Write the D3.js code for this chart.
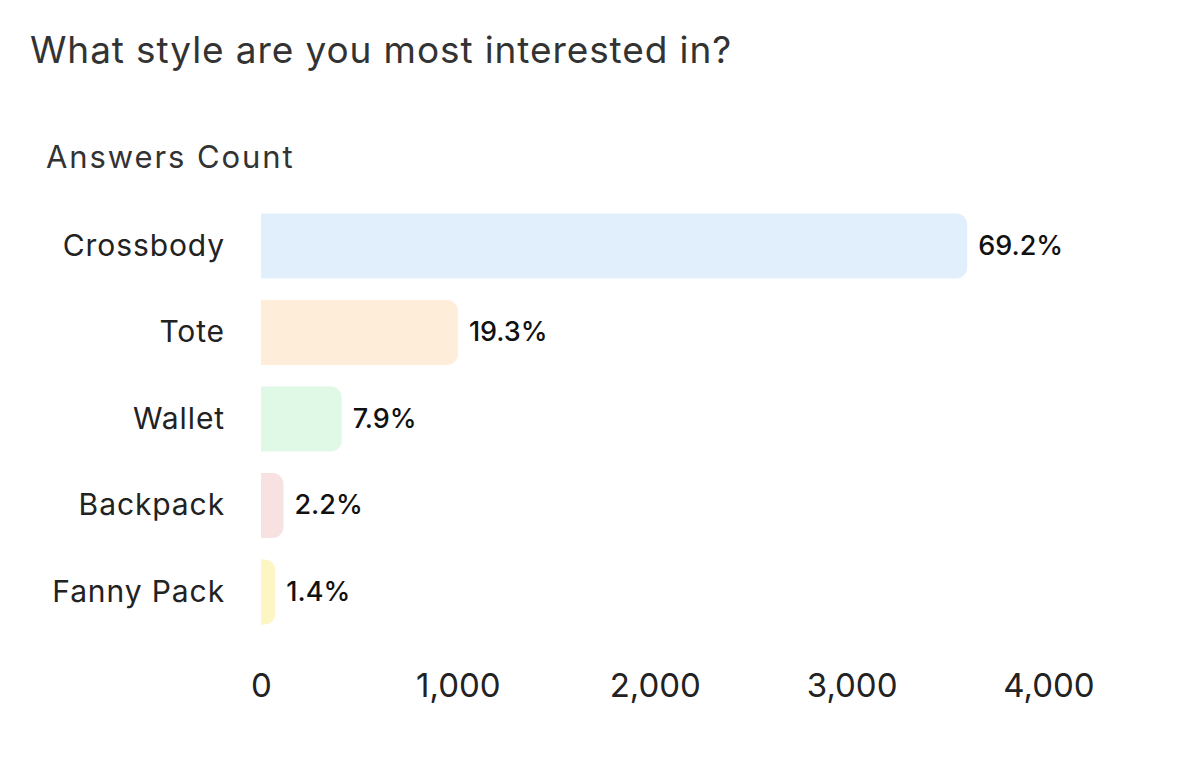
<!DOCTYPE html>
<html><head><meta charset="utf-8">
<script src="https://cdn.jsdelivr.net/npm/d3@7"></script>
<style>
html,body{margin:0;padding:0;background:#fff;}
svg{display:block;font-family:Inter, "Noto Sans", sans-serif;}
</style></head>
<body>
<svg id="chart" width="1200" height="771"></svg>
<script>
const categories = ["Crossbody","Tote","Wallet","Backpack","Fanny Pack"];
const counts = [3587, 1000, 410, 114, 73];
const percentLabels = ["69.2%","19.3%","7.9%","2.2%","1.4%"];
const barColors = ["#e1effc","#fdedd9","#e0f8e6","#f8e1e1","#fdf6c4"];
const xTicks = [0,1000,2000,3000,4000];

(function(){
const svg = d3.select("#chart");
const mLeft = 261, mRight = 1048.5;
const x = d3.scaleLinear().domain([0,4000]).range([mLeft,mRight]);
const y = d3.scaleBand().domain(categories).range([204.85,633.15]).paddingInner(0.2486).paddingOuter(0.1);

svg.append("text").attr("x",30).attr("y",63).attr("font-size",37).attr("letter-spacing",0.9).attr("fill","#333")
  .text("What style are you most interested in?");
svg.append("text").attr("x",46).attr("y",168).attr("font-size",31).attr("letter-spacing",1.9).attr("fill","#333")
  .text("Answers Count");

const r = 11;
function barPath(x0,x1,y0,h){
  const w = x1-x0;
  const rr = Math.min(r, w, h/2);
  return `M${x0},${y0}H${x1-rr}A${rr},${rr} 0 0 1 ${x1},${y0+rr}V${y0+h-rr}A${rr},${rr} 0 0 1 ${x1-rr},${y0+h}H${x0}Z`;
}
const g = svg.append("g");
g.selectAll("path.bar").data(categories).join("path").attr("class","bar")
  .attr("d",(d,i)=>barPath(x(0),x(counts[i]),y(d),y.bandwidth()))
  .attr("fill",(d,i)=>barColors[i]);

g.selectAll("text.val").data(categories).join("text").attr("class","val")
  .attr("x",(d,i)=>x(counts[i])+11).attr("y",d=>y(d)+y.bandwidth()/2)
  .attr("dy","0.33em").attr("font-size",27).attr("font-weight",500).attr("fill","#111")
  .text((d,i)=>percentLabels[i]);

const yAxis = d3.axisLeft(y).tickSize(0).tickPadding(0);
const ya = svg.append("g").attr("transform",`translate(225,0)`).call(yAxis);
ya.select(".domain").remove();
ya.selectAll("text").attr("font-size",30).attr("letter-spacing",0.9).attr("font-family","Inter, sans-serif").attr("fill","#222");

const xAxis = d3.axisBottom(x).tickValues(xTicks).tickSize(0).tickPadding(0).tickFormat(d3.format(","));
const xa = svg.append("g").attr("transform",`translate(0,673)`).call(xAxis);
xa.select(".domain").remove();
xa.selectAll("text").attr("dy","0.72em").attr("font-size",33).attr("font-family","Inter, sans-serif").attr("fill","#222");
})();
</script>
</body></html>
